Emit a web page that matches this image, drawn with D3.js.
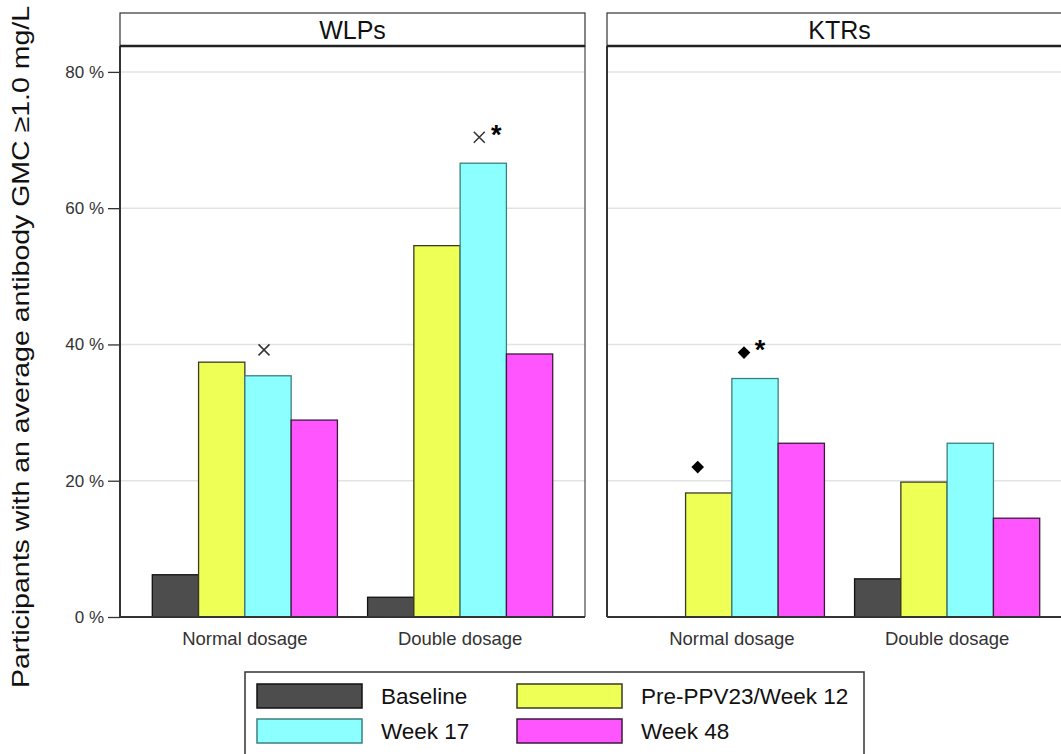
<!DOCTYPE html>
<html>
<head>
<meta charset="utf-8">
<script src="https://cdn.jsdelivr.net/npm/d3@7"></script>
<style>
  html, body { margin: 0; padding: 0; background: #fff; }
  svg { display: block; font-family: "Liberation Sans", Arial, sans-serif; }
</style>
</head>
<body>
<svg id="chart" width="1061" height="754"></svg>
<script>
// Share of participants with an average antibody GMC >= 1.0 mg/L
const panels = ["WLPs", "KTRs"];
const dosages = ["Normal dosage", "Double dosage"];
const timepoints = ["Baseline", "Pre-PPV23/Week 12", "Week 17", "Week 48"];

// percent values per panel, per dosage, in timepoint order
const wlpsNormal = [6.2, 37.4, 35.4, 28.9];
const wlpsDouble = [2.9, 54.5, 66.6, 38.6];
const ktrsNormal = [0, 18.2, 35.0, 25.5];
const ktrsDouble = [5.6, 19.8, 25.5, 14.5];

const yTicks = [0, 20, 40, 60, 80];

// significance markers drawn above selected bars
const markers = [
  { panel: "WLPs", dosage: "Normal dosage", timepoint: "Week 17", symbol: "cross", star: false },
  { panel: "WLPs", dosage: "Double dosage", timepoint: "Week 17", symbol: "cross", star: true },
  { panel: "KTRs", dosage: "Normal dosage", timepoint: "Pre-PPV23/Week 12", symbol: "diamond", star: false },
  { panel: "KTRs", dosage: "Normal dosage", timepoint: "Week 17", symbol: "diamond", star: true }
];

const values = {
  WLPs: { "Normal dosage": wlpsNormal, "Double dosage": wlpsDouble },
  KTRs: { "Normal dosage": ktrsNormal, "Double dosage": ktrsDouble }
};

const fills = ["#4d4d4d", "#eeff55", "#8cffff", "#ff55ff"];
const strokes = ["#111111", "#3a3a26", "#3d7f7f", "#3d1a3d"];

const svg = d3.select("#chart");
const panelW = 465;
const panelX = { WLPs: 120, KTRs: 607 };
const stripTop = 13, stripBot = 46, plotBot = 617;

const y = d3.scaleLinear().domain([0, 83.8]).range([plotBot, stripBot]);
// positions 1 and 2 for the dosage groups inside each panel
const xPos = d3.scaleLinear().domain([0.42, 2.58]).range([0, panelW]);
const groupUnits = 0.86;
const inner = d3.scaleBand().domain(timepoints)
  .range([-groupUnits / 2, groupUnits / 2].map(u => xPos(1 + u) - xPos(1)))
  .padding(0);

const font = "\"Liberation Sans\", Arial, sans-serif";

panels.forEach(p => {
  const g = svg.append("g").attr("transform", `translate(${panelX[p]},0)`);

  // grid
  g.append("g").selectAll("line").data(yTicks.filter(t => t > 0)).join("line")
    .attr("x1", 0).attr("x2", panelW)
    .attr("y1", d => y(d)).attr("y2", d => y(d))
    .attr("stroke", "#e3e3e3").attr("stroke-width", 1.5);

  // bars
  dosages.forEach((ds, gi) => {
    const cx = xPos(gi + 1);
    g.append("g").selectAll("rect").data(values[p][ds]).join("rect")
      .attr("x", (d, i) => cx + inner(timepoints[i]))
      .attr("width", inner.bandwidth())
      .attr("y", d => y(d))
      .attr("height", d => plotBot - y(d))
      .attr("fill", (d, i) => fills[i])
      .attr("stroke", (d, i) => strokes[i])
      .attr("stroke-width", 1.3)
      .attr("display", d => d > 0 ? null : "none");

    g.append("text")
      .attr("x", cx).attr("y", 645)
      .attr("text-anchor", "middle")
      .attr("font-size", 18.5).attr("fill", "#333")
      .attr("font-family", font)
      .text(ds);
  });

  // panel frame
  g.append("line").attr("x1", panelW).attr("x2", panelW).attr("y1", stripBot).attr("y2", plotBot)
    .attr("stroke", "#555").attr("stroke-width", 1.3);
  g.append("line").attr("x1", 0).attr("x2", 0).attr("y1", stripBot).attr("y2", plotBot)
    .attr("stroke", "#333").attr("stroke-width", 2);
  g.append("line").attr("x1", 0).attr("x2", panelW).attr("y1", plotBot).attr("y2", plotBot)
    .attr("stroke", "#333").attr("stroke-width", 2);

  // strip
  g.append("rect").attr("x", 0).attr("y", stripTop).attr("width", panelW).attr("height", stripBot - stripTop)
    .attr("fill", "#fff").attr("stroke", "#333").attr("stroke-width", 1.2);
  g.append("line").attr("x1", 0).attr("x2", panelW).attr("y1", stripBot).attr("y2", stripBot)
    .attr("stroke", "#222").attr("stroke-width", 2.5);
  g.append("text").attr("x", panelW / 2).attr("y", 38.5)
    .attr("text-anchor", "middle").attr("font-size", 25).attr("fill", "#111")
    .attr("font-family", font).text(p);
});

// y axis on the left panel
const yAxis = d3.axisLeft(y).tickValues(yTicks).tickSize(12).tickPadding(4).tickFormat(d => d + " %");
const ya = svg.append("g").attr("transform", `translate(${panelX.WLPs},0)`).call(yAxis);
ya.select(".domain").remove();
ya.selectAll(".tick line").attr("stroke", "#333").attr("stroke-width", 1.3);
ya.selectAll(".tick text").attr("font-size", 17).attr("fill", "#333").attr("font-family", font);

// y title
svg.append("text")
  .attr("transform", "translate(29,347) rotate(-90)")
  .attr("text-anchor", "middle").attr("font-size", 24).attr("fill", "#111")
  .attr("font-family", font)
  .attr("textLength", 682).attr("lengthAdjust", "spacingAndGlyphs")
  .text("Participants with an average antibody GMC \u22651.0 mg/L");

// markers: symbol sits left of the bar centre, asterisk to its right
const symbolShift = { cross: -4, diamond: -11 };
const starShift = { cross: 13, diamond: 5 };
markers.forEach(m => {
  const gi = dosages.indexOf(m.dosage);
  const ti = timepoints.indexOf(m.timepoint);
  const v = values[m.panel][m.dosage][ti];
  const cx = panelX[m.panel] + xPos(gi + 1) + inner(m.timepoint) + inner.bandwidth() / 2;
  const sx = cx + symbolShift[m.symbol];
  const sy = y(v + 3.8);
  if (m.symbol === "cross") {
    const r = 5.5;
    svg.append("path")
      .attr("d", `M${sx - r},${sy - r}L${sx + r},${sy + r}M${sx - r},${sy + r}L${sx + r},${sy - r}`)
      .attr("stroke", "#333").attr("stroke-width", 1.5).attr("fill", "none");
  } else {
    svg.append("path")
      .attr("d", d3.symbol().type(d3.symbolSquare).size(80)())
      .attr("transform", `translate(${sx},${sy}) rotate(45)`)
      .attr("fill", "#000");
  }
  if (m.star) {
    svg.append("text")
      .attr("x", cx + starShift[m.symbol]).attr("y", y(v + 5) + 15)
      .attr("text-anchor", "middle").attr("font-size", 27).attr("font-weight", "bold")
      .attr("fill", "#000").attr("font-family", font).text("*");
  }
});

// legend
const lg = svg.append("g");
lg.append("rect").attr("x", 245).attr("y", 672).attr("width", 619).attr("height", 100)
  .attr("fill", "#fff").attr("stroke", "#333").attr("stroke-width", 1.5);
const legendCols = [257, 517], legendRows = [684, 719];
timepoints.forEach((t, i) => {
  const kx = legendCols[i % 2], ky = legendRows[Math.floor(i / 2)];
  lg.append("rect").attr("x", kx).attr("y", ky).attr("width", 105).attr("height", 24)
    .attr("fill", fills[i]).attr("stroke", strokes[i]).attr("stroke-width", 1.5);
  lg.append("text").attr("x", kx + 124).attr("y", ky + 20)
    .attr("font-size", 22.5).attr("fill", "#111").attr("font-family", font).text(t);
});
</script>
</body>
</html>
